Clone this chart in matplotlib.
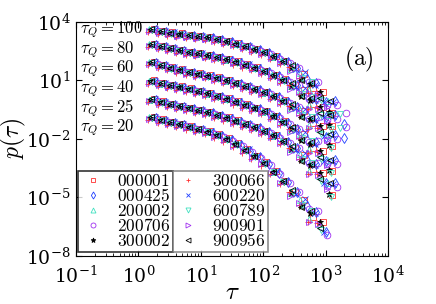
import numpy as np
import matplotlib.pyplot as plt

plt.rcParams['font.family'] = ['DejaVu Serif']
plt.rcParams['mathtext.fontset'] = 'cm'

# tau grid shared by every sample
tau = np.array([1.6, 2.3, 3.2, 4.5, 6.4, 9, 12.8, 18, 25.6, 36, 51, 72, 102,
                145, 205, 290, 410, 580, 820, 1160, 1640])

# log10 p(tau), one curve per tau_Q (already shifted by decades)
logp_tq100 = [3.60, 3.50, 3.42, 3.36, 3.30, 3.24, 3.19, 3.09, 2.99, 2.86, 2.72,
              2.58, 2.42, 2.20, 1.95, 1.64, 1.20, 0.70, 0.15, -0.40, -1.00]
logp_tq80 = [2.83, 2.72, 2.62, 2.52, 2.43, 2.35, 2.27, 2.17, 2.05, 1.93, 1.78,
             1.63, 1.45, 1.24, 1.00, 0.72, 0.35, -0.10, -0.60, -1.10, -1.70]
logp_tq60 = [1.90, 1.76, 1.63, 1.52, 1.40, 1.31, 1.22, 1.10, 0.97, 0.83, 0.68,
             0.53, 0.36, 0.16, -0.08, -0.36, -0.70, -1.10, -1.60, -2.10, -2.70]
logp_tq40 = [0.95, 0.82, 0.72, 0.64, 0.54, 0.42, 0.30, 0.17, 0.04, -0.12, -0.28,
             -0.44, -0.62, -0.85, -1.15, -1.50, -1.90, -2.35, -2.85, -3.40, -4.00]
logp_tq25 = [0.00, -0.13, -0.24, -0.34, -0.44, -0.55, -0.66, -0.80, -0.94, -1.10,
             -1.27, -1.43, -1.62, -1.85, -2.15, -2.50, -2.95, -3.45, -4.00, -4.60, -5.20]
logp_tq20 = [-0.92, -1.05, -1.16, -1.28, -1.40, -1.52, -1.65, -1.82, -2.02, -2.28,
             -2.58, -2.90, -3.25, -3.70, -4.20, -4.75, -5.30, -5.90, -6.50, -7.10, -7.60]
curves = [logp_tq100, logp_tq80, logp_tq60, logp_tq40, logp_tq25, logp_tq20]
curve_len = [21, 21, 20, 20, 20, 19]
tq_labels = ['100', '80', '60', '40', '25', '20']
tq_logy = [3.6, 2.6, 1.6, 0.6, -0.4, -1.4]

samples = ['000001', '000425', '200002', '200706', '300002',
           '300066', '600220', '600789', '900901', '900956']
markers = ['s', 'd', '^', 'o', '*', '+', 'x', 'v', '>', '<']
colors = ['#ff3030', '#2040ff', '#40e0c0', '#a030f0', 'black',
          '#ff3030', '#2040ff', '#40e0c0', '#a030f0', 'black']
tau_scale = [1.10, 1.22, 0.94, 1.30, 0.98, 0.90, 1.15, 1.04, 0.92, 1.00]
log_shift = [0.05, -0.03, 0.02, -0.08, 0.0, -0.12, 0.04, -0.02, -0.06, 0.03]
n_points = [20, 21, 20, 21, 20, 19, 20, 21, 20, 20]
tail_jit = [[0.0, 0.1, -0.15, 0.2, -0.3, 0.25],
            [0.05, -0.1, 0.2, -0.25, 0.35, -0.2],
            [-0.05, 0.15, -0.2, 0.1, 0.3, -0.4],
            [0.1, -0.2, 0.3, -0.35, 0.2, 0.4],
            [0.0, -0.15, 0.1, 0.25, -0.2, 0.3],
            [0.15, 0.05, -0.25, 0.3, -0.1, 0.2],
            [-0.1, 0.2, 0.05, -0.3, 0.25, -0.15],
            [0.05, -0.05, 0.25, -0.15, -0.35, 0.3],
            [-0.1, 0.1, -0.3, 0.2, 0.1, -0.25],
            [0.1, -0.2, 0.15, -0.1, 0.3, -0.3]]

fig = plt.figure(figsize=(4.36, 3.04), dpi=100)
ax = fig.add_axes([0.174, 0.158, 0.716, 0.770])

handles = []
for s in range(len(samples)):
    jit = np.concatenate([np.zeros(15), tail_jit[s]])
    filled = markers[s] == '*'
    for c, logp in enumerate(curves):
        n = min(n_points[s], curve_len[c])
        y = 10 ** (np.array(logp[:n]) + log_shift[s] + jit[:n])
        x = tau[:n] * tau_scale[s]
        h, = ax.plot(x, y, ls='none', marker=markers[s], ms=4.8,
                     mew=0.6, color=colors[s],
                     mfc=colors[s] if filled else 'none', mec=colors[s],
                     label='$' + samples[s] + '$')
    handles.append(h)

ax.set_xscale('log')
ax.set_yscale('log')
ax.set_xlim(1e-1, 1e4)
ax.set_ylim(1e-8, 1e4)
ax.set_xticks([1e-1, 1e0, 1e1, 1e2, 1e3, 1e4])
ax.set_yticks([1e-8, 1e-5, 1e-2, 1e1, 1e4])
ax.yaxis.set_minor_locator(plt.NullLocator())
ax.tick_params(which='both', direction='in', top=True, right=True, labelsize=13.5)
ax.tick_params(which='major', length=4)
ax.tick_params(which='minor', length=2)
ax.tick_params(axis='x', pad=7)
ax.tick_params(axis='y', pad=4)

ax.set_xlabel(r'$\tau$', fontsize=18, va='center')
ax.xaxis.set_label_coords(0.5, -0.155)
ax.set_ylabel(r'$p(\tau)$', fontsize=17, va='center')
ax.yaxis.set_label_coords(-0.2, 0.5)

for lab, ly in zip(tq_labels, tq_logy):
    ax.text(0.118, 10 ** ly, r'$\tau_Q=' + lab + '$', fontsize=12,
            va='center', ha='left')
ax.text(0.955, 0.84, r'$\mathrm{(a)}$', transform=ax.transAxes, fontsize=17,
        ha='right', va='center')

leg_kw = dict(fontsize=12.5, frameon=True, fancybox=False, markerscale=0.75,
              handlelength=1.5, handletextpad=0.6, labelspacing=-0.12,
              borderpad=0.15, borderaxespad=0.0)
leg1 = ax.legend(handles=handles[:5], loc='lower left',
                 bbox_to_anchor=(0.006, 0.015), **leg_kw)
leg1.get_frame().set_edgecolor('black')
leg1.get_frame().set_linewidth(1.2)
ax.add_artist(leg1)
leg2 = ax.legend(handles=handles[5:], loc='lower left',
                 bbox_to_anchor=(0.31, 0.015), **leg_kw)
leg2.get_frame().set_edgecolor('0.45')
leg2.get_frame().set_linewidth(1.2)

fig.savefig('out.png', dpi=100)
